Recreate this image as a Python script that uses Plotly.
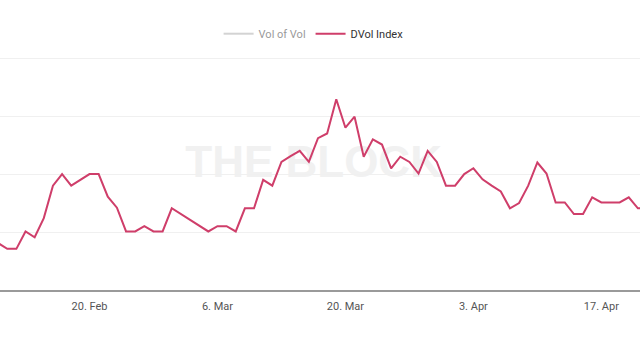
import plotly.graph_objects as go
import pandas as pd

# DVol Index daily values, 2023-02-10 .. 2023-04-22
dates = pd.date_range("2023-02-10", "2023-04-22", freq="D")
dvol_values = [
    48.1, 47.1, 47.1, 50.1, 49.1, 52.4, 58.0, 60.0, 58.0, 59.0,   # Feb 10-19
    60.0, 60.0, 56.1, 54.2, 50.1, 50.1, 51.0, 50.1, 50.1,         # Feb 20-28
    54.1, 53.1, 52.1, 51.1, 50.1, 51.0, 51.0, 50.1, 54.1, 54.1,   # Mar 1-10
    59.0, 58.0, 62.1, 63.1, 64.0, 62.1, 66.2, 67.0, 72.9, 68.0,   # Mar 11-20
    69.9, 63.0, 66.0, 65.1, 61.0, 63.0, 62.1, 60.1, 64.0, 62.1,   # Mar 21-30
    58.0,                                                         # Mar 31
    58.0, 60.0, 61.0, 59.1, 58.0, 57.0, 54.1, 55.0, 58.0, 62.0,   # Apr 1-10
    60.1, 55.1, 55.1, 53.1, 53.1, 56.0, 55.1, 55.1, 55.1, 56.0,   # Apr 11-20
    54.1, 54.1,                                                   # Apr 21-22
]
# Vol of Vol series is hidden in the reference (legend item greyed out, no visible values)
volofvol_dates = ["2023-02-10"]
volofvol_values = [None]

tick_dates = ["2023-02-20", "2023-03-06", "2023-03-20", "2023-04-03", "2023-04-17"]
tick_labels = ["20. Feb", "6. Mar", "20. Mar", "3. Apr", "17. Apr"]

fig = go.Figure()
fig.add_trace(go.Scatter(
    x=volofvol_dates, y=volofvol_values, name="Vol of Vol", mode="lines",
    line=dict(color="#a8a8a8", width=2), visible="legendonly",
))
fig.add_trace(go.Scatter(
    x=dates, y=dvol_values, name="DVol Index", mode="lines",
    line=dict(color="#cf3e6a", width=2),
))

# watermark, drawn below the line
fig.add_shape(
    type="rect", xref="paper", yref="paper", x0=0.29, x1=0.69, y0=0.49, y1=0.65,
    line=dict(width=0), fillcolor="rgba(0,0,0,0)", layer="below",
    label=dict(text="<b>THE BLOCK</b>", textposition="middle center",
               font=dict(family="Liberation Sans, Arial", size=44, color="#f1f1f1")),
)

fig.update_layout(
    width=640, height=360,
    margin=dict(l=0, r=0, t=57, b=70),
    paper_bgcolor="white", plot_bgcolor="white",
    showlegend=True,
    legend=dict(
        orientation="h", x=0.49, xanchor="center", y=1.1, yanchor="middle",
        font=dict(family="Roboto, Arial", size=11, color="#333333"),
        itemwidth=30, tracegroupgap=0,
    ),
    xaxis=dict(
        range=["2023-02-10 05:00", "2023-04-21 05:30"],
        tickvals=tick_dates, ticktext=tick_labels,
        showgrid=False, zeroline=False, automargin=False,
        showline=True, linecolor="#9a9a9a", linewidth=2,
        ticks="outside", ticklen=5, tickcolor="rgba(0,0,0,0)",
        tickfont=dict(family="Roboto, Arial", size=11, color="#555555"),
    ),
    yaxis=dict(
        range=[40, 80.2], dtick=10, showticklabels=False, automargin=False,
        showgrid=True, gridcolor="#f0f0f0", gridwidth=1, zeroline=False,
    ),
)

fig.write_html("out.html", config={"displayModeBar": False},
               post_script="document.body.style.margin='0';")
